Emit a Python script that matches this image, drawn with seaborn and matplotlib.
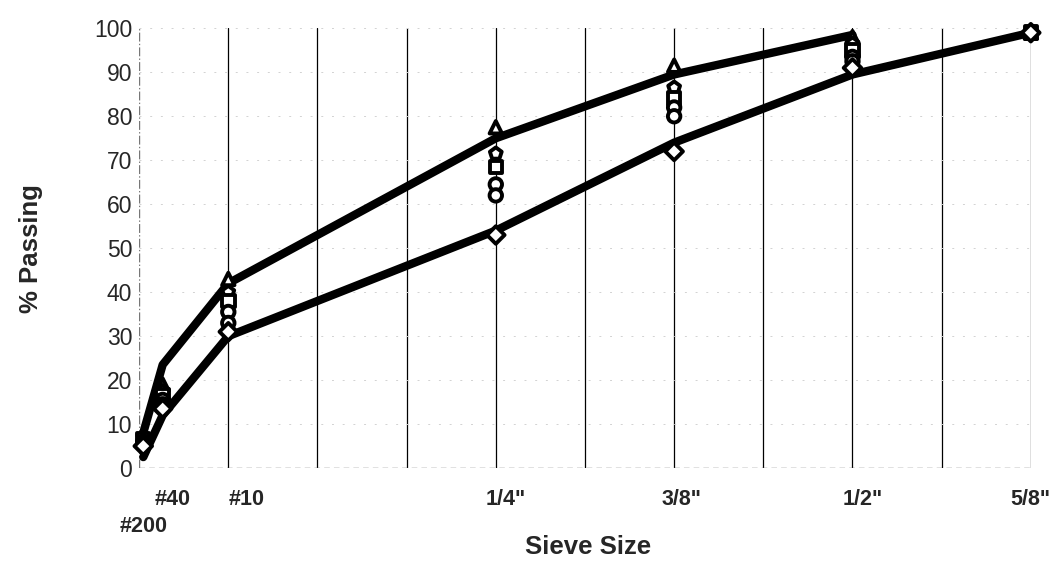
import numpy as np
import pandas as pd
import matplotlib
matplotlib.use('Agg')
import matplotlib.pyplot as plt
from matplotlib.transforms import ScaledTranslation
import seaborn as sns

sns.set_style("white")
plt.rcParams['font.family'] = ['Liberation Sans', 'DejaVu Sans']

# sieve openings (inches) and their labels
sieve_labels = ['#200', '#40', '#10', '1/4"', '3/8"', '1/2"', '5/8"']
sieve_in = [0.0029, 0.0165, 0.0625, 0.25, 0.375, 0.5, 0.625]

# specification band
upper_limit = [8, 23.5, 42, 75, 89.5, 98.5]          # ends at 1/2"
lower_limit = [2.5, 12, 30, 54, 74, 89.5, 99]

# test results, % passing
sample_a = [7.5, 19, 43, 77.5, 91.5, 98, 99]
sample_b = [7, 17.5, 40, 71.5, 86.5, 96.5, 99]
sample_c = [6.5, 16.5, 38, 68.5, 84, 95, 99]
sample_d = [6, 15.5, 35.5, 64.5, 82, 93.5, 99]
sample_e = [5.5, 14.5, 33, 62, 80, 92.5, 99]
sample_f = [5, 13.5, 31, 53, 72, 91, 99]

samples = {'A': sample_a, 'B': sample_b, 'C': sample_c,
           'D': sample_d, 'E': sample_e, 'F': sample_f}
marker_map = {'A': '^', 'B': 'p', 'C': 's', 'D': 'o', 'E': 'o', 'F': 'D'}

df = pd.concat([pd.DataFrame({'sieve': sieve_in, 'passing': v, 'sample': k})
                for k, v in samples.items()], ignore_index=True)

fig = plt.figure(figsize=(10.54, 5.66), dpi=100)
ax = fig.add_axes([0.132, 0.173, 0.846, 0.777])

# grid
for gx in np.arange(0.0625, 0.626, 0.0625):
    ax.axvline(gx, color='black', lw=0.9, zorder=1)
ax.axvline(0, color='#777777', lw=1, ls='-.', zorder=1)
for gy in range(10, 101, 10):
    ax.axhline(gy, color='#d2d2d2', lw=0.7, ls=(0, (2, 9)), zorder=1)
ax.axhline(0, color='#666666', lw=1, ls=(0, (4, 3)), zorder=1)

sns.lineplot(x=sieve_in[:len(upper_limit)], y=upper_limit, color='black', lw=6,
             ax=ax, zorder=3, sort=False)
sns.lineplot(x=sieve_in, y=lower_limit, color='black', lw=6, ax=ax, zorder=3, sort=False)
for ln in ax.get_lines()[-2:]:
    ln.set_solid_joinstyle('round')
    ln.set_clip_on(False)

sns.scatterplot(data=df, x='sieve', y='passing', style='sample', markers=marker_map,
                color='white', edgecolor='black', linewidth=2.8, s=80,
                legend=False, ax=ax, zorder=4, clip_on=False)

ax.set_xlim(0, 0.625)
ax.set_ylim(0, 100)
ax.set_yticks(range(0, 101, 10))
ax.set_xticks(sieve_in)
ax.set_xticklabels(sieve_labels, fontsize=15.5, fontweight='bold')
ax.tick_params(axis='both', length=0)
ax.tick_params(axis='y', labelsize=16.5, pad=5)
ax.tick_params(axis='x', pad=15)
# (dx, dy) pixel nudges; #200 sits on a second row
label_shift_px = [(0, -27), (10, 0), (18, 0), (10, 0), (7, 0), (10, 0), (0, 0)]
for lab, (dx, dy) in zip(ax.get_xticklabels(), label_shift_px):
    lab.set_transform(lab.get_transform() +
                      ScaledTranslation(dx / 100, dy / 100, fig.dpi_scale_trans))

for sp in ax.spines.values():
    sp.set_visible(False)

ax.set_xlabel('Sieve Size', fontsize=18.5, fontweight='bold')
ax.xaxis.set_label_coords(0.504, -0.152)
ax.set_ylabel('% Passing', fontsize=18.5, fontweight='bold')
ax.yaxis.set_label_coords(-0.108, 0.5)

fig.savefig('out.png', dpi=100)
